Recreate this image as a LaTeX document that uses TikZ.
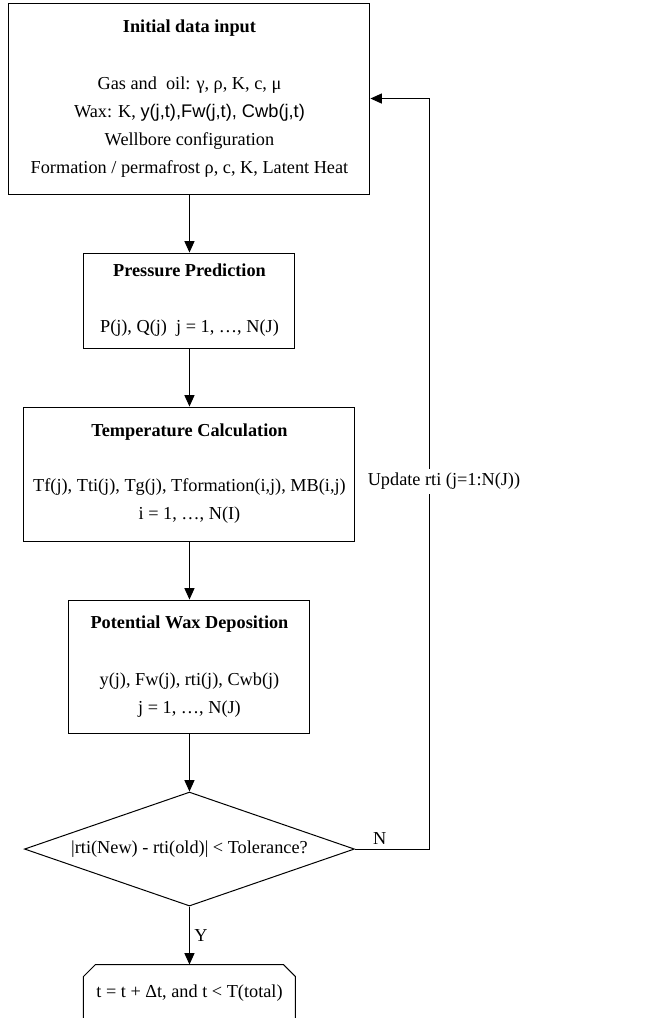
\documentclass[tikz,border=0pt]{standalone}
\usepackage{fontspec}
\setmainfont{Liberation Serif}
\newfontfamily\sansfam{Liberation Sans}
\usetikzlibrary{positioning,shapes.geometric,arrows.meta,calc}

\begin{document}
\begin{tikzpicture}[node distance=43.5pt, auto, line width=0.75pt,
		font=\fontsize{13.7}{21}\selectfont,
		>={Triangle[length=8.5pt,width=7.5pt]},
		box/.style={draw, align=center, inner sep=0pt}]
		\useasboundingbox (0,0) rectangle (499.5pt,-763.5pt);
		\node (In) [box, minimum width=270.75pt, minimum height=143.25pt] at (142.1pt,-73.9pt)
			{\textbf{Initial data input}\\[21.75pt]
			Gas and\ \ oil: γ, ρ, K, c, μ\\
			Wax: K, {\sansfam y(j,t),Fw(j,t), Cwb(j,t)}\\
			Wellbore configuration\\
			Formation / permafrost ρ, c, K, Latent Heat};
		\node (Pr) [box, below=of In, minimum width=158.25pt, minimum height=71.25pt]
			{\textbf{Pressure Prediction}\\[21pt]
			P(j), Q(j)\ \ j = 1, …, N(J)};
		\node (Te) [box, below=of Pr, minimum width=248.25pt, minimum height=100.5pt]
			{\textbf{Temperature Calculation}\\[20.25pt]
			Tf(j), Tti(j), Tg(j), Tformation(i,j), MB(i,j)\\
			i = 1, …, N(I)};
		\node (Wa) [box, below=of Te, minimum width=180.75pt, minimum height=99.75pt]
			{\textbf{Potential Wax Deposition}\\[21.75pt]
			y(j), Fw(j), rti(j), Cwb(j)\\
			j = 1, …, N(J)};
		\node (Tol) [diamond, draw, aspect=2.9, inner sep=1pt, below=of Wa,
			minimum width=247.5pt, minimum height=85.5pt] {|rti(New) - rti(old)| < Tolerance?};
		\node (Tm) [below=of Tol, minimum width=158.25pt, minimum height=42.75pt]
			{t = t + Δt, and t < T(total)};
		\draw (Tm.south west) -- ($(Tm.north west)+(0,-9pt)$) -- ($(Tm.north west)+(9pt,0)$)
			-- ($(Tm.north east)+(-9pt,0)$) -- ($(Tm.north east)+(0,-9pt)$) -- (Tm.south east) -- cycle;
		\coordinate (C) at ($(Tol.east)+(56.25pt,0)$);
		\draw[->](In) to (Pr);
		\draw[->](Pr) to (Te);
		\draw[->](Te) to (Wa);
		\draw[->](Wa) to (Tol);
		\draw[->](Tol) to node {Y} (Tm);
		\draw[->](Tol.east) -- node [pos=0.33] {N} (C)
			-- node [pos=0.49, anchor=center, fill=white, xshift=10.5pt] {Update rti (j=1:N(J))} (C |- In.east)
			-- (In.east);
		\end{tikzpicture}
\end{document}
